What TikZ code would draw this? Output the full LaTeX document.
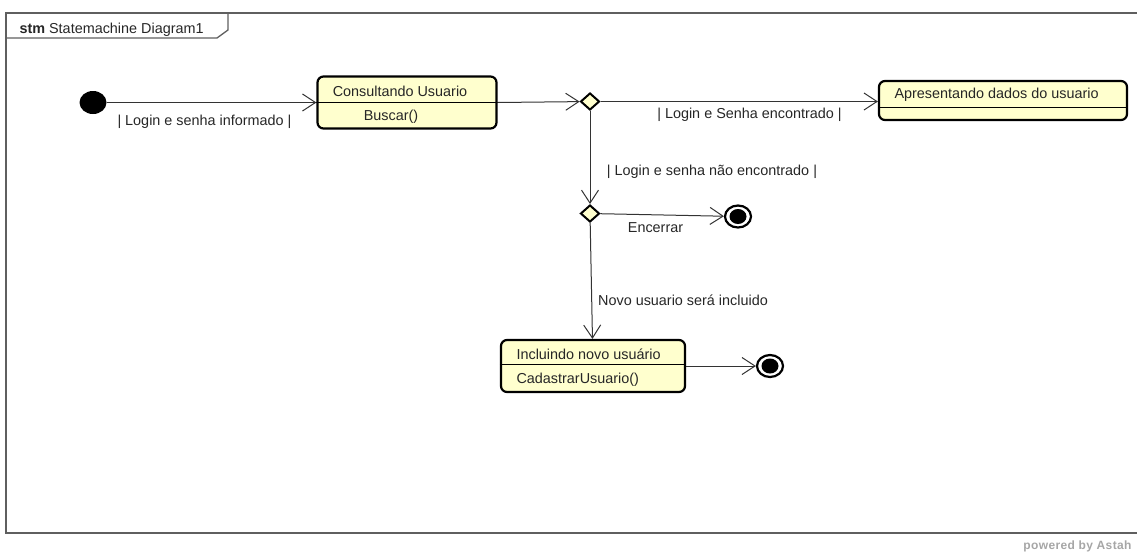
\documentclass[tikz,border=0pt]{standalone}
\usepackage{fontspec}
\setmainfont{Liberation Sans}
\usetikzlibrary{arrows.meta,shapes.geometric}
\definecolor{statefill}{RGB}{255,255,206}
\definecolor{framegray}{RGB}{95,95,95}

\begin{document}
\begin{tikzpicture}[x=1pt,y=-1pt,
    every node/.style={font=\fontsize{14.4}{17}\selectfont, text=black!85},
    trans/.style={draw=black!80, line width=1pt, -{Straight Barb[length=13pt,width=17pt]}},
    statebox/.style={draw, line width=2.2pt, rounded corners=6pt, fill=statefill},
    choice/.style={diamond, draw, line width=2pt, fill=statefill, minimum width=19pt, minimum height=17pt, inner sep=0pt},
    initstate/.style={ellipse, fill=black, minimum width=27pt, minimum height=23pt, inner sep=0pt},
    finalstate/.style={ellipse, draw, line width=2.2pt, fill=white, minimum width=26pt, minimum height=22pt, inner sep=0pt,
        path picture={\fill[black] (path picture bounding box.center) ellipse (8.5pt and 7.5pt);}}]
    \useasboundingbox (0,0) rectangle (1137,558);
    % frame
    \draw[framegray, line width=1.3pt] (1140,13) -- (6,13) -- (6,533) -- (1140,533);
    \draw[framegray, line width=1.3pt] (6,38) -- (217,38) -- (228,30) -- (228,13);
    \node[anchor=west] (title) at (16,30) {\textbf{stm} Statemachine Diagram1};
    % states
    \node[initstate] (ini) at (93,102.5) {};
    \node[statebox, minimum width=179pt, minimum height=52pt] (cu) at (407,102.5) {};
    \draw[line width=1pt] (cu.west) -- (cu.east);
    \node (cuname) at (400,91) {Consultando Usuario};
    \node (cudo) at (391,117) {Buscar()};
    \node[statebox, minimum width=248pt, minimum height=39pt] (ap) at (1003,100.5) {};
    \draw[line width=1pt] ([yshift=-6.5pt]ap.west) -- ([yshift=-6.5pt]ap.east);
    \node[anchor=west] (apname) at (891,95) {Apresentando dados do usuario};
    \node[statebox, minimum width=184pt, minimum height=52pt] (inc) at (593,366) {};
    \draw[line width=1pt] ([yshift=2pt]inc.west) -- ([yshift=2pt]inc.east);
    \node[anchor=west] (incname) at (513,354) {Incluindo novo usuário};
    \node[anchor=west] (incdo) at (513,380) {CadastrarUsuario()};
    \node[choice] (d1) at (590,101.5) {};
    \node[choice] (d2) at (590,213.5) {};
    \node[finalstate] (f1) at (738,216.5) {};
    \node[finalstate] (f2) at (770,366) {};
    % transitions
    \draw[trans] (ini) -- (cu.west);
    \draw[trans] (cu.east) -- (d1);
    \draw[trans] (d1.east) -- (d1 -| ap.west);
    \draw[trans] (d1) -- (d2);
    \draw[trans] (d2) -- (f1);
    \draw[trans] (d2) -- (inc);
    \draw[trans] (inc.east) -- (f2);
    % guards
    \node (g1) at (204.5,122) {| Login e senha informado |};
    \node (g2) at (749.5,115) {| Login e Senha encontrado |};
    \node (g3) at (712,172) {| Login e senha não encontrado |};
    \node (g4) at (655.5,228) {Encerrar};
    \node (g5) at (683,300) {Novo usuario será incluido};
    \node[anchor=east, font=\fontsize{12}{14}\selectfont\bfseries\addfontfeature{LetterSpace=3}, text=black!35] (brand) at (1135,546) {powered by Astah};
\end{tikzpicture}
\end{document}
